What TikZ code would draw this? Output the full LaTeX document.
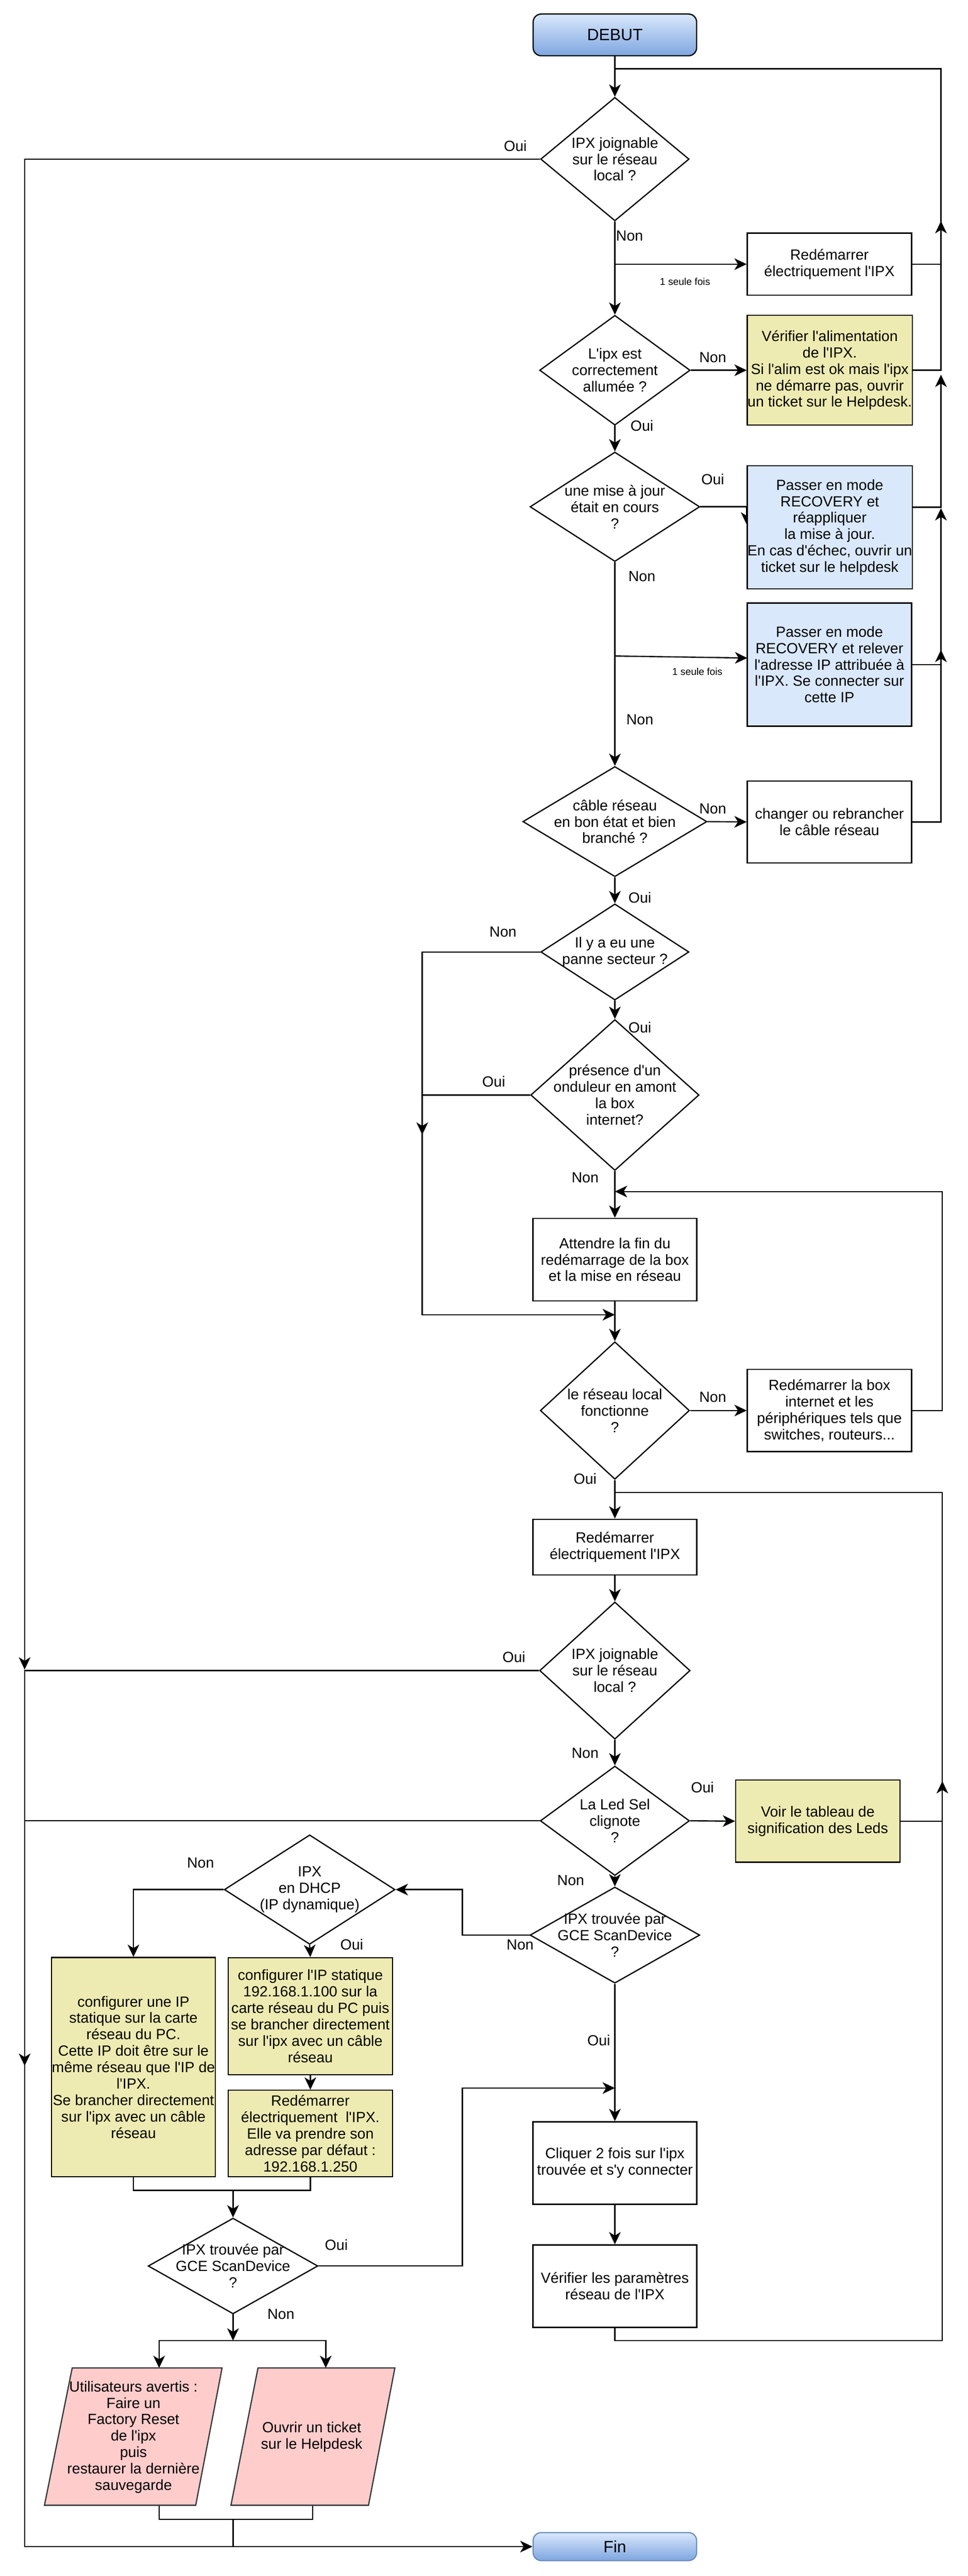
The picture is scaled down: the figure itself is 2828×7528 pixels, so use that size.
\documentclass[tikz,border=0pt]{standalone}
\usepackage{fontspec}
\setmainfont{Liberation Sans}[Ligatures=TeXOff]
\usetikzlibrary{shapes.geometric,arrows.meta}
\pgfdeclarelayer{background}
\pgfsetlayers{background,main}
\definecolor{bluefill}{HTML}{DAE8FC}
\definecolor{bluedark}{HTML}{7EA6E0}
\definecolor{bluestroke}{HTML}{6C8EBF}
\definecolor{yelfill}{HTML}{EEEBB2}
\definecolor{pinkfill}{HTML}{FFCCCC}
\definecolor{pinkstroke}{HTML}{36393D}
\newcommand{\myfs}{\fontsize{10.75pt}{12pt}\selectfont}
\newcommand{\mysmall}{\fontsize{7.25pt}{8.7pt}\selectfont}
\newcommand{\mybig}{\fontsize{12pt}{14pt}\selectfont}
\begin{document}
\begin{tikzpicture}[x=0.25pt,y=-0.25pt,
  ln/.style={line width=0.9pt},
  arr/.style={line width=0.9pt,-{Stealth[length=9pt,width=8.5pt,inset=2.6pt]}},
  pbox/.style={draw,line width=0.9pt,fill=white,inner sep=0pt,align=center,font=\myfs},
  ybox/.style={pbox,fill=yelfill},
  bbox/.style={pbox,fill=bluefill},
  term/.style={draw,line width=0.9pt,rounded corners=6pt,top color=bluefill,bottom color=bluedark,inner sep=0pt,font=\mybig,minimum width=119.5pt},
  dia/.style={diamond,draw,line width=0.9pt,fill=white,inner sep=0pt},
  txt/.style={align=center,font=\myfs,inner sep=0pt},
  lbl/.style={font=\myfs,inner sep=0pt},
  slbl/.style={font=\mysmall,inner sep=0pt},
  para/.style={draw=pinkstroke,fill=pinkfill,line width=0.9pt}]
\useasboundingbox (0,0) rectangle (2828,7528);

% ---------- terminals ----------
\node[term,minimum height=30.5pt] (deb) at (1797,102) {DEBUT};
\node[term,draw=bluestroke,minimum height=20.5pt] (fin) at (1797,7442) {Fin};

% ---------- diamonds ----------
\node[dia,minimum width=108.5pt,minimum height=90.25pt] (d1) at (1797,465) {};
\node[txt] at (d1.center) {IPX joignable\\sur le réseau\\local ?};
\node[dia,minimum width=110pt,minimum height=80.25pt] (d2) at (1797,1082) {};
\node[txt] at (d2.center) {L'ipx est\\correctement\\allumée ?};
\node[dia,minimum width=124pt,minimum height=80pt] (d3) at (1797,1481) {};
\node[txt] at (d3.center) {une mise à jour\\était en cours\\?};
\node[dia,minimum width=134.5pt,minimum height=80.5pt] (d4) at (1797,2401) {};
\node[txt] at (d4.center) {câble réseau\\en bon état et bien\\branché ?};
\node[dia,minimum width=108.25pt,minimum height=70.25pt] (d5) at (1797,2782) {};
\node[txt] at (d5.center) {Il y a eu une\\panne secteur ?};
\node[dia,minimum width=123pt,minimum height=110.25pt] (d6) at (1797,3200) {};
\node[txt] at (d6.center) {présence d'un\\onduleur en amont\\la box\\internet?};
\node[dia,minimum width=109pt,minimum height=100.5pt] (d7) at (1797,4122) {};
\node[txt] at (d7.center) {le réseau local\\fonctionne\\?};
\node[dia,minimum width=110pt,minimum height=100.25pt] (d8) at (1797,4882) {};
\node[txt] at (d8.center) {IPX joignable\\sur le réseau\\local ?};
\node[dia,minimum width=109pt,minimum height=80pt] (d9) at (1797,5321) {};
\node[txt] at (d9.center) {La Led Sel\\clignote\\?};
\node[dia,minimum width=124pt,minimum height=70.25pt] (d10) at (1797,5655) {};
\node[txt] at (d10.center) {IPX trouvée par\\GCE ScanDevice\\?};
\node[dia,minimum width=124.75pt,minimum height=80pt] (d11) at (905,5522) {};
\node[txt] at (d11.center) {IPX\\en DHCP\\(IP dynamique)};
\node[dia,minimum width=124pt,minimum height=70pt] (d12) at (681,6622) {};
\node[txt] at (d12.center) {IPX trouvée par\\GCE ScanDevice\\?};

% ---------- boxes ----------
\node[pbox,minimum width=120pt,minimum height=45.5pt] (b1) at (2424,772) {Redémarrer\\électriquement l'IPX};
\node[ybox,minimum width=120.5pt,minimum height=80.25pt] (y1) at (2425,1082) {Vérifier l'alimentation\\de l'IPX.\\Si l'alim est ok mais l'ipx\\ne démarre pas, ouvrir\\un ticket sur le Helpdesk.};
\node[bbox,minimum width=120.5pt,minimum height=90pt] (bl1) at (2425,1541) {Passer en mode\\RECOVERY et\\réappliquer\\la mise à jour.\\En cas d'échec, ouvrir un\\ticket sur le helpdesk};
\node[bbox,minimum width=120pt,minimum height=90pt] (bl2) at (2424,1942) {Passer en mode\\RECOVERY et relever\\l'adresse IP attribuée à\\l'IPX. Se connecter sur\\cette IP};
\node[pbox,minimum width=120pt,minimum height=60pt] (cab) at (2424,2402) {changer ou rebrancher\\le câble réseau};
\node[pbox,minimum width=119.75pt,minimum height=60.25pt] (att) at (1797,3681) {Attendre la fin du\\redémarrage de la box\\et la mise en réseau};
\node[pbox,minimum width=120pt,minimum height=60pt] (rbox) at (2424,4122) {Redémarrer la box\\internet et les\\périphériques tels que\\switches, routeurs...};
\node[pbox,minimum width=119.75pt,minimum height=40.75pt] (re2) at (1797,4521) {Redémarrer\\électriquement l'IPX};
\node[ybox,minimum width=120pt,minimum height=60pt] (voir) at (2390,5322) {Voir le tableau de\\signification des Leds};
\node[ybox,minimum width=119.75pt,minimum height=160.25pt] (c1) at (390,6041) {configurer une IP\\statique sur la carte\\réseau du PC.\\Cette IP doit être sur le\\même réseau que l'IP de\\l'IPX.\\Se brancher directement\\sur l'ipx avec un câble\\réseau};
\node[ybox,minimum width=120pt,minimum height=85.5pt] (c2) at (907,5892) {configurer l'IP statique\\192.168.1.100 sur la\\carte réseau du PC puis\\se brancher directement\\sur l'ipx avec un câble\\réseau};
\node[ybox,minimum width=120pt,minimum height=63.25pt] (r2) at (907,6235) {Redémarrer\\électriquement\ \ l'IPX.\\Elle va prendre son\\adresse par défaut :\\192.168.1.250};
\node[pbox,minimum width=119.75pt,minimum height=60.25pt] (cli) at (1797,6321) {Cliquer 2 fois sur l'ipx\\trouvée et s'y connecter};
\node[pbox,minimum width=119.75pt,minimum height=60.25pt] (ver) at (1797,6681) {Vérifier les paramètres\\réseau de l'IPX};

% ---------- parallelograms ----------
\draw[para] (211,6920) -- (649,6920) -- (572,7321) -- (130,7321) -- cycle;
\draw[para] (754,6920) -- (1154,6920) -- (1077,7321) -- (675,7321) -- cycle;
\node[txt] (p1) at (390,7122) {Utilisateurs avertis :\\Faire un\\Factory Reset\\de l'ipx\\puis\\restaurer la dernière\\sauvegarde};
\node[txt] (p2) at (911,7122) {Ouvrir un ticket\\sur le Helpdesk};

% ---------- helper coordinates ----------
\coordinate (R) at (2750,201);
\coordinate (Mtop) at (1797,201);
\coordinate (a1) at (2750,646);
\coordinate (a2) at (2750,1095);
\coordinate (a3) at (2750,1485);
\coordinate (a4) at (2750,1899);
\coordinate (jb1) at (1797,772);
\coordinate (jb2) at (1797,1917);
\coordinate (eb2) at (2184,1923);
\coordinate (ebl1) at (2666,1482);
\coordinate (Lx) at (72,0);
\coordinate (aL1) at (72,4879);
\coordinate (aL2) at (72,6037);
\coordinate (Q) at (1234,0);
\coordinate (aQ) at (1234,3316);
\coordinate (jQ) at (1797,3842);
\coordinate (R2) at (2754,0);
\coordinate (jr) at (1797,3482);
\coordinate (lt) at (1797,4362);
\coordinate (lb) at (1797,6840);
\coordinate (av) at (2754,5205);
\coordinate (S) at (1351,0);
\coordinate (jd12) at (1797,6102);
\coordinate (m1) at (681,6401);
\coordinate (m2) at (681,6840);
\coordinate (p1top) at (465,6920);
\coordinate (p2top) at (952,6920);
\coordinate (p1bot) at (465,7321);
\coordinate (p2bot) at (914,7321);
\coordinate (m3) at (681,7362);
\coordinate (m4) at (681,7442);

% ---------- connectors ----------
\begin{pgfonlayer}{background}
\fill[white] (0,0) rectangle (2828,7528);
\draw[arr] (deb.south) -- (d1.north);
\draw[arr] (d1.south) -- (d2.north);
\draw[arr] (d2.south) -- (d3.north);
\draw[arr] (d3.south) -- (d4.north);
\draw[arr] (d4.south) -- (d5.north);
\draw[arr] (d5.south) -- (d6.north);
\draw[arr] (d6.south) -- (att.north);
\draw[arr] (att.south) -- (d7.north);
\draw[arr] (d7.south) -- (re2.north);
\draw[arr] (re2.south) -- (d8.north);
\draw[arr] (d8.south) -- (d9.north);
\draw[arr] (d9.south) -- (d10.north);
\draw[arr] (d10.south) -- (cli.north);
\draw[arr] (cli.south) -- (ver.north);
% right branches
\draw[arr] (jb1) -- (b1.west);
\draw[arr] (d2.east) -- (y1.west);
\draw[ln] (d3.east) -- (d3.east -| bl1.west);
\draw[arr] (d3.east -| bl1.west) -- ++(0,52);
\draw[arr] (jb2) -- (eb2);
\draw[arr] (d4.east) -- (cab.west);
\draw[arr] (d7.east) -- (rbox.west);
\draw[arr] (d9.east) -- (voir.west);
% upper right loop
\draw[ln] (b1.east) -- (b1.east -| R) -- (R) -- (Mtop);
\draw[arr] (y1.east) -- (y1.east -| R) -- (a1);
\draw[arr] (ebl1) -- (ebl1 -| R) -- (a2);
\draw[arr] (bl2.east) -- (bl2.east -| R) -- (a3);
\draw[arr] (cab.east) -- (cab.east -| R) -- (a4);
% left long line
\draw[arr] (d1.west) -- (d1.west -| Lx) -- (aL1);
\draw[arr] (d8.west) -- (d8.west -| Lx) -- (aL2);
\draw[arr] (d9.west) -- (d9.west -| Lx) -- (Lx |- fin.west) -- (fin.west);
% power failure branch
\draw[arr] (d5.west) -- (d5.west -| Q) -- (aQ);
\draw[arr] (d6.west) -- (d6.west -| Q) -- (Q |- jQ) -- (jQ);
% box restart loop
\draw[arr] (rbox.east) -- (rbox.east -| R2) -- (R2 |- jr) -- (jr);
% lower right loop
\draw[ln] (ver.south) -- (lb) -- (lb -| R2) -- (R2 |- lt) -- (lt);
\draw[arr] (voir.east) -- (voir.east -| R2) -- (av);
% DHCP part
\draw[arr] (d10.west) -- (d10.west -| S) -- (S |- d11.east) -- (d11.east);
\draw[arr] (d11.west) -- (d11.west -| c1.north) -- (c1.north);
\draw[arr] (d11.south) -- (c2.north);
\draw[arr] (c2.south) -- (r2.north);
\draw[ln] (c1.south) |- (m1);
\draw[ln] (r2.south) |- (m1);
\draw[arr] (m1) -- (d12.north);
\draw[arr] (d12.east) -- (d12.east -| S) -- (S |- jd12) -- (jd12);
\draw[arr] (d12.south) -- (m2);
\draw[arr] (m2) -| (p1top);
\draw[arr] (m2) -| (p2top);
\draw[ln] (p1bot) |- (m3);
\draw[ln] (p2bot) |- (m3);
\draw[ln] (m3) -- (m4);
\end{pgfonlayer}

% ---------- labels ----------
\node[lbl] at (1506,426) {Oui};
\node[lbl] at (1840,689) {Non};
\node[slbl] at (2002,823) {1 seule fois};
\node[lbl] at (2083,1044) {Non};
\node[lbl] at (1876,1244) {Oui};
\node[lbl] at (2083,1401) {Oui};
\node[lbl] at (1876,1685) {Non};
\node[slbl] at (2038,1962) {1 seule fois};
\node[lbl] at (1870,2103) {Non};
\node[lbl] at (2083,2364) {Non};
\node[lbl] at (1870,2623) {Oui};
\node[lbl] at (1470,2723) {Non};
\node[lbl] at (1870,3002) {Oui};
\node[lbl] at (1443,3161) {Oui};
\node[lbl] at (1710,3441) {Non};
\node[lbl] at (2083,4083) {Non};
\node[lbl] at (1710,4322) {Oui};
\node[lbl] at (1502,4842) {Oui};
\node[lbl] at (1710,5123) {Non};
\node[lbl] at (2053,5223) {Oui};
\node[lbl] at (1668,5495) {Non};
\node[lbl] at (586,5444) {Non};
\node[lbl] at (1520,5684) {Non};
\node[lbl] at (1028,5682) {Oui};
\node[lbl] at (1750,5962) {Oui};
\node[lbl] at (983,6561) {Oui};
\node[lbl] at (821,6763) {Non};
\end{tikzpicture}
\end{document}
